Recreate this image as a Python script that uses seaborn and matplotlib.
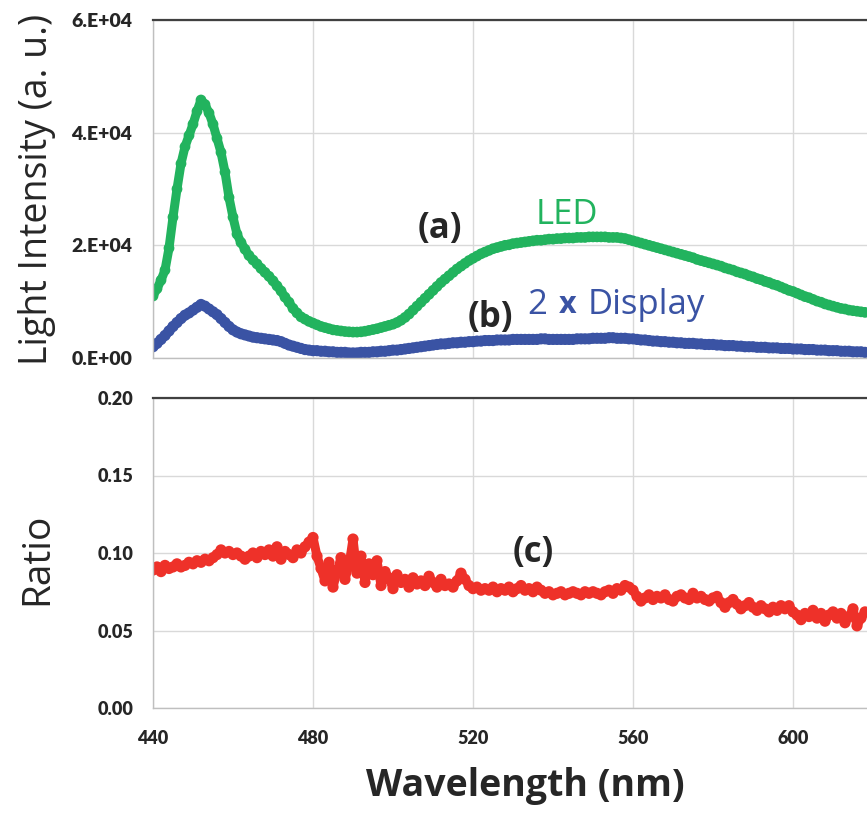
import matplotlib.pyplot as plt
import seaborn as sns
import pandas as pd

# data (1 nm steps, 440-618 nm)
wavelength = list(range(440, 619))

led = [
    11000, 12300, 13800, 15600, 19500, 25000, 30000, 34500, 37500, 39500,
    41500, 43800, 45800, 45000, 43500, 41500, 39000, 36500, 33000, 28500,
    25000, 22000, 20500, 19300, 18200, 17400, 16700, 15900, 15200, 14500,
    13700, 12800, 11900, 10800, 9900, 8800, 8000, 7300, 6900, 6500,
    6200, 5900, 5600, 5400, 5200, 5000, 4900, 4800, 4700, 4650,
    4600, 4600, 4650, 4750, 4900, 5050, 5200, 5400, 5600, 5800,
    6000, 6300, 6700, 7200, 7800, 8500, 9200, 9900, 10600, 11300,
    12000, 12700, 13400, 14000, 14600, 15200, 15800, 16300, 16800, 17300,
    17700, 18100, 18500, 18800, 19100, 19400, 19600, 19800, 20000, 20100,
    20300, 20400, 20500, 20600, 20700, 20800, 20900, 20900, 21000, 21100,
    21100, 21200, 21200, 21300, 21300, 21300, 21400, 21400, 21400, 21500,
    21500, 21500, 21500, 21500, 21400, 21400, 21400, 21300, 21200, 21000,
    20800, 20600, 20400, 20200, 20000, 19800, 19600, 19400, 19200, 19000,
    18800, 18600, 18400, 18200, 18000, 17800, 17500, 17300, 17100, 16900,
    16700, 16500, 16300, 16000, 15800, 15600, 15300, 15100, 14900, 14600,
    14400, 14100, 13900, 13600, 13400, 13100, 12900, 12600, 12300, 12000,
    11800, 11500, 11200, 10900, 10700, 10400, 10100, 9900, 9600, 9400,
    9200, 9000, 8800, 8700, 8500, 8400, 8300, 8200, 8100,
]

display_2x = [
    2000, 2600, 3300, 4000, 4800, 5600, 6300, 7000, 7600, 8000,
    8500, 9000, 9500, 9200, 8700, 8200, 7700, 7000, 6300, 5600,
    5000, 4600, 4300, 4100, 3900, 3700, 3600, 3500, 3400, 3300,
    3200, 3100, 2900, 2600, 2300, 2100, 1900, 1700, 1500, 1400,
    1300, 1300, 1200, 1200, 1100, 1100, 1000, 1000, 1000, 900,
    900, 900, 1000, 1000, 1000, 1100, 1100, 1200, 1200, 1300,
    1400, 1400, 1500, 1600, 1700, 1800, 1900, 2000, 2100, 2200,
    2300, 2400, 2500, 2500, 2600, 2700, 2700, 2800, 2800, 2900,
    2900, 3000, 3000, 3100, 3100, 3100, 3200, 3200, 3200, 3200,
    3300, 3300, 3300, 3300, 3300, 3300, 3300, 3400, 3400, 3300,
    3300, 3300, 3300, 3300, 3300, 3300, 3400, 3400, 3400, 3400,
    3500, 3500, 3500, 3500, 3600, 3600, 3500, 3500, 3500, 3400,
    3400, 3300, 3200, 3200, 3100, 3000, 3000, 2900, 2900, 2800,
    2800, 2700, 2700, 2600, 2600, 2600, 2500, 2500, 2400, 2400,
    2400, 2300, 2300, 2200, 2200, 2200, 2100, 2100, 2000, 2000,
    2000, 1900, 1900, 1900, 1800, 1800, 1800, 1700, 1700, 1700,
    1600, 1600, 1600, 1500, 1500, 1500, 1400, 1400, 1400, 1300,
    1300, 1300, 1200, 1200, 1200, 1100, 1100, 1100, 1000,
]

ratio = [
    0.089, 0.091, 0.088, 0.092, 0.090, 0.091, 0.093, 0.091, 0.092, 0.094,
    0.093, 0.095, 0.094, 0.096, 0.095, 0.097, 0.099, 0.102, 0.100, 0.101,
    0.099, 0.100, 0.098, 0.096, 0.098, 0.100, 0.097, 0.101, 0.099, 0.102,
    0.098, 0.104, 0.096, 0.101, 0.099, 0.097, 0.102, 0.100, 0.104, 0.107,
    0.110, 0.098, 0.090, 0.082, 0.094, 0.078, 0.088, 0.097, 0.083, 0.092,
    0.109, 0.087, 0.098, 0.081, 0.093, 0.086, 0.095, 0.079, 0.088, 0.084,
    0.077, 0.086, 0.081, 0.083, 0.078, 0.084, 0.080, 0.082, 0.079, 0.085,
    0.081, 0.078, 0.083, 0.079, 0.080, 0.078, 0.082, 0.087, 0.083, 0.079,
    0.077, 0.078, 0.076, 0.077, 0.076, 0.078, 0.075, 0.077, 0.076, 0.078,
    0.075, 0.077, 0.079, 0.076, 0.077, 0.075, 0.078, 0.076, 0.074, 0.075,
    0.073, 0.074, 0.075, 0.073, 0.074, 0.075, 0.074, 0.073, 0.075, 0.074,
    0.075, 0.074, 0.073, 0.075, 0.076, 0.074, 0.077, 0.076, 0.079, 0.078,
    0.076, 0.072, 0.069, 0.071, 0.073, 0.070, 0.072, 0.071, 0.073, 0.070,
    0.069, 0.072, 0.073, 0.071, 0.070, 0.074, 0.071, 0.072, 0.070, 0.069,
    0.071, 0.072, 0.068, 0.065, 0.068, 0.070, 0.067, 0.064, 0.066, 0.068,
    0.065, 0.063, 0.066, 0.064, 0.062, 0.065, 0.063, 0.066, 0.064, 0.066,
    0.062, 0.060, 0.057, 0.061, 0.059, 0.063, 0.058, 0.061, 0.056, 0.060,
    0.062, 0.058, 0.061, 0.055, 0.059, 0.064, 0.053, 0.058, 0.062,
]

wl_ticks = [440, 480, 520, 560, 600]
wl_labels = ["440", "480", "520", "560", "600"]
int_ticks = [0, 20000, 40000, 60000]
int_labels = ["0.E+00", "2.E+04", "4.E+04", "6.E+04"]
ratio_ticks = [0.00, 0.05, 0.10, 0.15, 0.20]
ratio_labels = ["0.00", "0.05", "0.10", "0.15", "0.20"]

df = pd.DataFrame({"wl": wavelength, "led": led, "disp": display_2x, "ratio": ratio})

GREEN = "#22b35e"
BLUE = "#3a53a4"
RED = "#ee3129"

sns.set_style("white")
plt.rcParams["font.family"] = ["Open Sans", "DejaVu Sans"]

W, H = 867, 814
fig = plt.figure(figsize=(W / 100, H / 100), dpi=100)
ax1 = fig.add_axes([153 / W, (H - 358) / H, 720 / W, 338 / H])
ax2 = fig.add_axes([153 / W, (H - 708) / H, 720 / W, 310 / H])

# top: spectra
sns.lineplot(data=df, x="wl", y="led", ax=ax1, color=GREEN, lw=6.5)
sns.scatterplot(data=df, x="wl", y="led", ax=ax1, color=GREEN, s=60, edgecolor="none")
sns.lineplot(data=df, x="wl", y="disp", ax=ax1, color=BLUE, lw=7)
sns.scatterplot(data=df, x="wl", y="disp", ax=ax1, color=BLUE, s=65, edgecolor="none")

# bottom: ratio
sns.lineplot(data=df, x="wl", y="ratio", ax=ax2, color=RED, lw=6.5)
sns.scatterplot(data=df, x="wl", y="ratio", ax=ax2, color=RED, s=65, edgecolor="none")

for ax in (ax1, ax2):
    ax.set_xlim(440, 620)
    ax.set_xticks(wl_ticks)
    ax.grid(True, color="#d9d9d9", lw=1)
    ax.set_axisbelow(True)
    ax.tick_params(length=0)
    ax.spines["top"].set_color("#404040")
    ax.spines["top"].set_linewidth(1.6)
    for s in ("left", "bottom"):
        ax.spines[s].set_color("#bfbfbf")
        ax.spines[s].set_linewidth(1)
    ax.spines["right"].set_visible(False)

ax1.set_ylim(0, 60000)
ax1.set_yticks(int_ticks)
ax1.set_yticklabels(int_labels, fontfamily="Lato", fontweight="heavy", fontsize=14)
ax1.tick_params(axis="y", pad=15)
ax1.set_xticklabels([])
ax1.set_xlabel("")
ax1.set_ylabel("Light Intensity (a. u.)", fontsize=27)
ax1.yaxis.set_label_coords(-0.135, 0.5)

ax2.set_ylim(0, 0.20)
ax2.set_yticks(ratio_ticks)
ax2.set_yticklabels(ratio_labels, fontfamily="Lato", fontweight="heavy", fontsize=13)
ax2.set_xticklabels(wl_labels, fontfamily="Lato", fontweight="heavy", fontsize=13)
ax2.tick_params(axis="y", pad=14)
ax2.tick_params(axis="x", pad=16)
ax2.set_ylabel("Ratio", fontsize=28)
ax2.yaxis.set_label_coords(-0.135, 0.48)
ax2.set_xlabel("Wavelength (nm)", fontsize=27, fontweight="bold")
ax2.xaxis.set_label_coords(0.517, -0.19)

# annotations
ax1.text(511.75, 22900, "(a)", fontsize=25, fontweight="bold", ha="center", va="center")
ax1.text(543.5, 25400, "LED", fontsize=25, color=GREEN, ha="center", va="center")
ax1.text(524.25, 7100, "(b)", fontsize=25, fontweight="bold", ha="center", va="center")
ax1.text(533.5, 9400, "2", fontsize=25, color=BLUE, ha="left", va="center")
ax1.text(541.5, 9400, "x", fontsize=22, color=BLUE, fontweight="bold", ha="left", va="center")
ax1.text(548.75, 9400, "Display", fontsize=25, color=BLUE, ha="left", va="center")
ax2.text(535, 0.100, "(c)", fontsize=25, fontweight="bold", ha="center", va="center")

fig.savefig("out.png", dpi=100)
